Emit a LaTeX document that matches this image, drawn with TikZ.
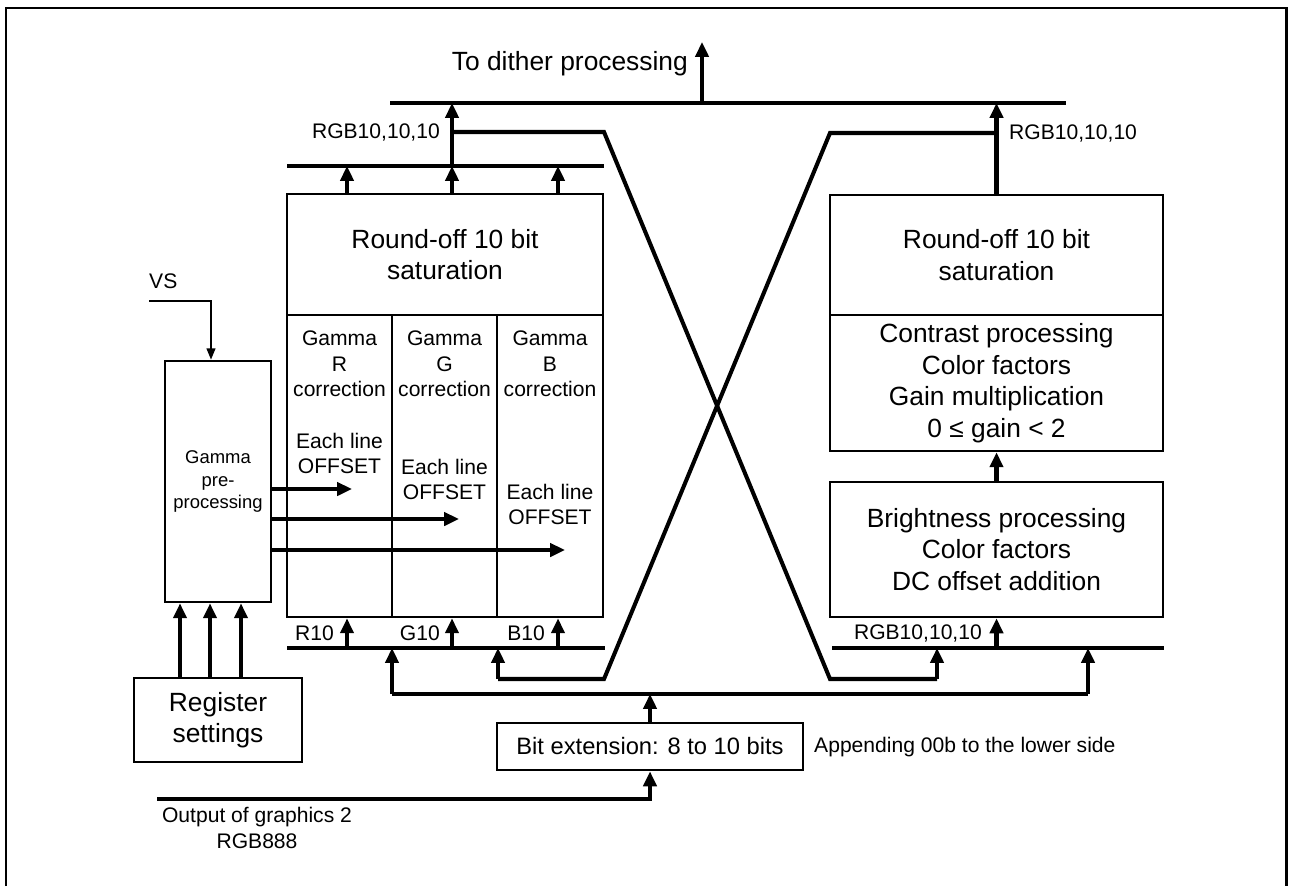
\documentclass[tikz,border=0pt]{standalone}
\usepackage{fontspec}
\setmainfont{Liberation Sans}
\usepackage{tikz}
\usetikzlibrary{arrows.meta}

\tikzset{
  bigtxt/.style={font=\fontsize{15}{18}\selectfont},
  midtxt/.style={font=\fontsize{12}{14.6}\selectfont},
  smltxt/.style={font=\fontsize{10.5}{12.8}\selectfont},
  box/.style={draw,line width=1.5pt,inner sep=0pt,align=center},
  bus/.style={line width=2.3pt},
  arr/.style={line width=2.3pt,-{Triangle[width=7.5pt,length=8.5pt]}},
  thinarr/.style={line width=1.1pt,-{Triangle[width=5pt,length=6.5pt]}},
}

\begin{document}
\begin{tikzpicture}[x=0.02cm,y=-0.02cm]
\useasboundingbox (0,0) rectangle (1290,886);
% frame
\draw[line width=1.7pt] (6,886) -- (6,8) -- (1286,8) -- (1286,886);

% left block
\node[box,bigtxt,minimum width=6.32cm,minimum height=2.42cm](RndL)at(445,254.5){Round-off 10 bit\\saturation};
\node[box,minimum width=2.1cm,minimum height=6.04cm](gR)at(339.5,466){};
\node[box,minimum width=2.1cm,minimum height=6.04cm](gG)at(444.5,466){};
\node[box,minimum width=2.12cm,minimum height=6.04cm](gB)at(550,466){};
\node[midtxt,align=center](tR)at(339.5,364){Gamma\\R\\correction};
\node[midtxt,align=center](tG)at(444.5,364){Gamma\\G\\correction};
\node[midtxt,align=center](tB)at(550,364){Gamma\\B\\correction};
\node[midtxt,align=center](oR)at(339.5,453.5){Each line\\OFFSET};
\node[midtxt,align=center](oG)at(444.5,479.5){Each line\\OFFSET};
\node[midtxt,align=center](oB)at(550,504.5){Each line\\OFFSET};

\node[box,smltxt,minimum width=2.12cm,minimum height=4.82cm](Pre)at(218,481.5){Gamma\\pre-\\processing};
\node[box,bigtxt,minimum width=3.36cm,minimum height=1.68cm](Reg)at(218,720){Register\\settings};
\node[box,font=\fontsize{13.5}{16}\selectfont,minimum width=6.12cm,minimum height=0.94cm](Bit)at(650,746.5){Bit extension: 8 to 10 bits};

% right block
\node[box,bigtxt,minimum width=6.66cm,minimum height=2.4cm](RndR)at(996.5,255){Round-off 10 bit\\saturation};
\node[box,bigtxt,minimum width=6.66cm,minimum height=2.72cm](Con)at(996.5,383){Contrast processing\\Color factors\\Gain multiplication\\0 ≤ gain < 2};
\node[box,bigtxt,minimum width=6.66cm,minimum height=2.7cm](Bri)at(996.5,549.5){Brightness processing\\Color factors\\DC offset addition};

% labels
\node[bigtxt,anchor=east](dithlbl)at(694,64){To dither processing};
\node[midtxt,anchor=east](rgbL)at(446,132){RGB10,10,10};
\node[midtxt,anchor=west](rgbT)at(1003,133){RGB10,10,10};
\node[midtxt,anchor=east](rgbB)at(988,633){RGB10,10,10};
\node[midtxt,anchor=east](lR)at(340,633){R10};
\node[midtxt,anchor=east](lG)at(446,633){G10};
\node[midtxt,anchor=east](lB)at(551,633){B10};
\node[midtxt,anchor=west](vslbl)at(143,281){VS};
\node[midtxt,align=center](inlbl)at(257,828){Output of graphics 2\\RGB888};
\node[midtxt,anchor=west](applbl)at(808,747){Appending 00b to the lower side};

% buses and points
\coordinate(topA)at(390,103);\coordinate(topB)at(1066,103);
\coordinate(ubA)at(287,166);\coordinate(ubB)at(604,166);
\coordinate(lbA)at(287,648);\coordinate(lbB)at(605,648);
\coordinate(rbA)at(832,648);\coordinate(rbB)at(1164,648);
\coordinate(distL)at(392,694);\coordinate(distR)at(1088,694);
\coordinate(cR)at(347,0);\coordinate(cG)at(452,0);\coordinate(cB)at(558,0);
\coordinate(dith)at(702,42);
\coordinate(vs)at(149,301);
\coordinate(inp)at(157,799);
\coordinate(offR)at(352,489);\coordinate(offG)at(459,519);\coordinate(offB)at(565,550);
\coordinate(xa)at(604,132);\coordinate(xb)at(830,679);\coordinate(xc)at(937,679);
\coordinate(ya)at(498,679);\coordinate(yb)at(604,679);\coordinate(yc)at(830,133);

\draw[bus](topA)--(topB);
\draw[bus](ubA)--(ubB);
\draw[bus](lbA)--(lbB);
\draw[bus](rbA)--(rbB);
\draw[bus](distL)--(distR);

% connectors
\draw[arr](dith |- topA)--(dith);
\foreach \c in {cR,cG,cB}{
  \draw[arr](\c |- RndL.north)--(\c |- ubA);
  \draw[arr](\c |- lbA)--(\c |- gR.south);
}
\draw[arr](cG |- ubA)--(cG |- topA);
\draw[arr](RndR.north)--(RndR.north |- topA);
\draw[arr](Bri.north)--(Con.south);
\draw[arr](Bri.south |- rbA)--(Bri.south);

\draw[bus](cG |- xa)--(xa)--(xb)--(xc);
\draw[arr](xc)--(xc |- rbA);
\draw[arr](ya)--(ya |- lbA);
\draw[bus](ya)--(yb)--(yc)--(yc -| RndR.north);

\draw[arr](distL)--(distL |- lbA);
\draw[arr](distR)--(distR |- rbA);
\draw[arr](Bit.north)--(Bit.north |- distL);
\draw[arr](inp)-|(Bit.south);

\foreach \o in {offR,offG,offB}\draw[arr](Pre.east |- \o)--(\o);
\foreach \dx in {-38,-8,23}\draw[arr]([xshift=\dx*0.02cm]Reg.north)--([xshift=\dx*0.02cm]Pre.south);
\draw[thinarr](vs)-|([xshift=-0.14cm]Pre.north);
\end{tikzpicture}
\end{document}
